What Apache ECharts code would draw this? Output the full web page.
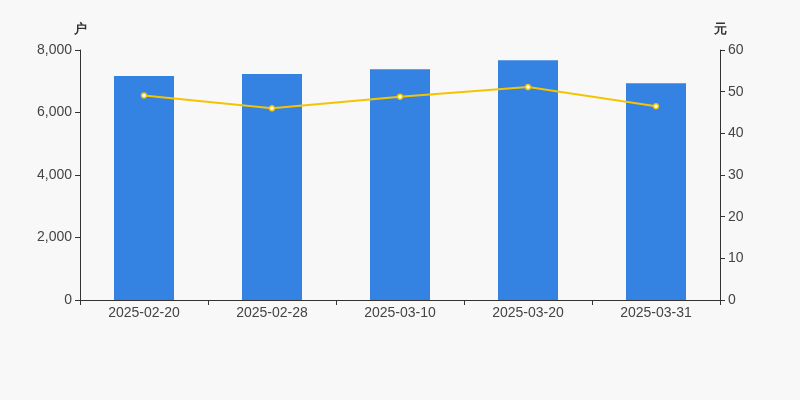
<!DOCTYPE html>
<html><head><meta charset="utf-8">
<script src="https://cdn.jsdelivr.net/npm/echarts@6/dist/echarts.min.js"></script>
<style>html,body{margin:0;padding:0;background:#f8f8f8;}#c{width:800px;height:400px;}</style>
</head><body><div id="c"></div>
<script>
var categories = ['2025-02-20','2025-02-28','2025-03-10','2025-03-20','2025-03-31'];
var holders = [7168, 7232, 7381, 7669, 6933];
var prices = [49.1, 46.0, 48.8, 51.1, 46.5];
var chart = echarts.init(document.getElementById('c'));
var axisLine = {show:true, lineStyle:{color:'#333'}};
var axisLabel = {color:'#444', fontSize:14, fontFamily:'Arial, Liberation Sans, sans-serif'};
chart.setOption({
  backgroundColor:'#f8f8f8',
  animation:false,
  grid:{left:80,right:80,top:50,bottom:100},
  xAxis:{type:'category',data:categories,axisLine:axisLine,axisTick:{show:true,lineStyle:{color:'#333'}},
    axisLabel:Object.assign({margin:6},axisLabel)},
  yAxis:[
    {type:'value',min:0,max:8000,interval:2000,name:'户',nameGap:14,
     nameTextStyle:{color:'#333',fontSize:13,fontWeight:'bold'},
     axisLine:axisLine,axisTick:{show:true,lineStyle:{color:'#333'}},splitLine:{show:false},
     axisLabel:Object.assign({formatter:function(v){return v.toLocaleString('en-US');}},axisLabel)},
    {type:'value',min:0,max:60,interval:10,name:'元',nameGap:14,
     nameTextStyle:{color:'#333',fontSize:13,fontWeight:'bold'},
     axisLine:axisLine,axisTick:{show:true,lineStyle:{color:'#333'}},splitLine:{show:false},
     axisLabel:axisLabel}
  ],
  series:[
    {type:'bar',data:holders,barWidth:60,itemStyle:{color:'#3482e2'}},
    {type:'line',yAxisIndex:1,data:prices,symbol:'circle',symbolSize:5,
     lineStyle:{color:'#f5c400',width:2},itemStyle:{color:'#fff',borderColor:'#f5c400',borderWidth:1.5}}
  ]
});
</script></body></html>
